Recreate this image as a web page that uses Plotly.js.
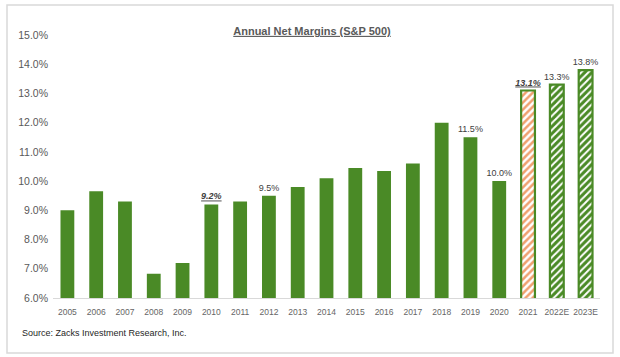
<!DOCTYPE html>
<html>
<head>
<meta charset="utf-8">
<script src="https://cdn.plot.ly/plotly-3.0.1.min.js"></script>
<style>
  html, body { margin: 0; padding: 0; background: #ffffff; }
  #chart { width: 620px; height: 357px; }
</style>
</head>
<body>
<div id="chart"></div>
<script>
// ---- data ----
const years = ["2005","2006","2007","2008","2009","2010","2011","2012","2013","2014",
               "2015","2016","2017","2018","2019","2020","2021","2022E","2023E"];
const margins = [9.0, 9.65, 9.3, 6.83, 7.2, 9.2, 9.3, 9.5, 9.8, 10.1,
                 10.45, 10.35, 10.6, 12.0, 11.5, 10.0, 13.1, 13.3, 13.8];
const labels = ["", "", "", "", "", "<b><i><u>9.2%</u></i></b>", "", "9.5%", "", "",
                "", "", "", "", "11.5%", "10.0%", "<b><i><u>13.1%</u></i></b>", "13.3%", "13.8%"];
const yTickVals = [6, 7, 8, 9, 10, 11, 12, 13, 14, 15];
const yTickText = ["6.0%", "7.0%", "8.0%", "9.0%", "10.0%", "11.0%", "12.0%", "13.0%", "14.0%", "15.0%"];

// ---- styles ----
const GREEN = "#4a8a26";
const ORANGE = "#f0a070";
const FONT = "Liberation Sans, Arial, sans-serif";

// groups: actual (0..15), current year (16), estimates (17,18)
const actualIdx = years.map((y, i) => i).filter(i => i < 16);
const currentIdx = [16];
const estIdx = [17, 18];
const pick = (arr, idx) => idx.map(i => arr[i]);

function barTrace(idx, marker) {
  return {
    type: "bar",
    x: pick(years, idx),
    y: pick(margins, idx),
    text: pick(labels, idx),
    textposition: "outside",
    constraintext: "none",
    cliponaxis: false,
    textfont: { family: FONT, size: 9, color: "#404040" },
    marker: marker,
    hoverinfo: "none"
  };
}

const traces = [
  barTrace(actualIdx, { color: GREEN, line: { width: 0 } }),
  barTrace(currentIdx, {
    color: "#ffffff",
    line: { color: GREEN, width: 2.2 },
    pattern: { shape: "/", fgcolor: ORANGE, bgcolor: "#ffffff", size: 5, solidity: 0.5, fillmode: "replace" }
  }),
  barTrace(estIdx, {
    color: GREEN,
    line: { color: GREEN, width: 2.2 },
    pattern: { shape: "/", fgcolor: "#ffffff", bgcolor: GREEN, size: 5, solidity: 0.4, fillmode: "replace" }
  })
];

// plot area in px: x 53..600, y 35..298
const PL = 53, PR = 600, PT = 35, PB = 298;
const PW = PR - PL, PH = PB - PT;
const px = v => (v - PL) / PW;
const py = v => (PB - v) / PH;

const layout = {
  width: 620, height: 357,
  margin: { l: PL, r: 620 - PR, t: PT, b: 357 - PB },
  paper_bgcolor: "#ffffff",
  plot_bgcolor: "#ffffff",
  showlegend: false,
  barmode: "overlay",
  bargap: 0.52,
  title: {
    text: "<b><u>Annual Net Margins (S&P 500)</u></b>",
    font: { family: FONT, size: 11, color: "#595959" },
    xref: "container", x: 312 / 620, xanchor: "center",
    yref: "container", y: 1 - 31 / 357, yanchor: "middle"
  },
  xaxis: {
    type: "category",
    categoryorder: "array", categoryarray: years,
    showline: true, linecolor: "#d9d9d9", linewidth: 1,
    showgrid: false, ticks: "", tickangle: 0,
    tickfont: { family: FONT, size: 8.5, color: "#666666" },
    ticklabelstandoff: 6,
    fixedrange: true
  },
  yaxis: {
    range: [6, 15],
    tickvals: yTickVals, ticktext: yTickText,
    showgrid: false, zeroline: false, showline: false, ticks: "",
    tickfont: { family: FONT, size: 10.5, color: "#595959" },
    ticklabelstandoff: 4,
    fixedrange: true
  },
  shapes: [{
    type: "rect", xref: "paper", yref: "paper",
    x0: px(7), x1: px(613), y0: py(353), y1: py(5),
    line: { color: "#d9d9d9", width: 1.5 }, fillcolor: "rgba(0,0,0,0)", layer: "below"
  }],
  annotations: [{
    text: "Source: Zacks Investment Research, Inc.",
    xref: "paper", yref: "paper", x: px(20), y: py(333),
    xanchor: "left", yanchor: "middle", showarrow: false,
    font: { family: FONT, size: 9, color: "#262626" }
  }]
};

Plotly.newPlot("chart", traces, layout, { staticPlot: true, displayModeBar: false });
</script>
</body>
</html>
